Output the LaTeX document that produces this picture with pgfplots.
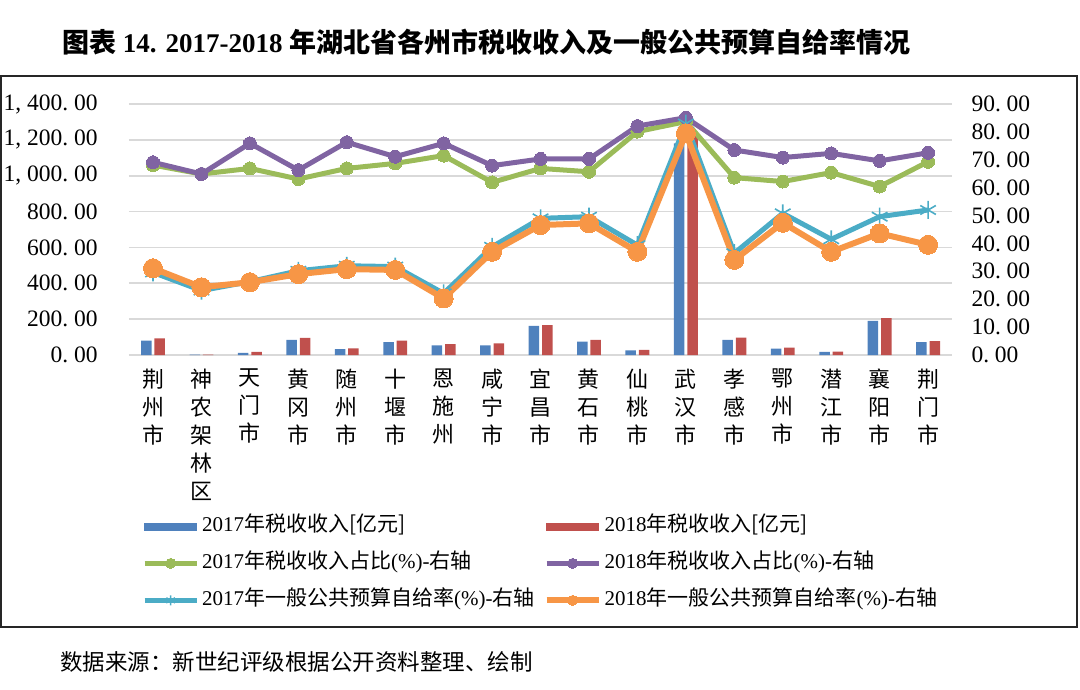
\documentclass[border=0pt]{standalone}
\usepackage{fontspec}
\setmainfont{Liberation Serif}
\newfontfamily\cjk{Noto Sans CJK SC}
\usepackage{pgfplots}
\pgfplotsset{compat=1.18}
\definecolor{cblue}{HTML}{4F81BD}
\definecolor{cred}{HTML}{C0504D}
\definecolor{cgreen}{HTML}{9BBB59}
\definecolor{cpurple}{HTML}{8064A2}
\definecolor{cteal}{HTML}{4BACC6}
\definecolor{corange}{HTML}{F79646}
\newcommand\cm{,\hspace{0.25em}}
\newcommand\pd{.\hspace{0.25em}}
\begin{document}
\begin{tikzpicture}[x=1pt,y=1pt]
\path[use as bounding box] (0,0) rectangle (1080,689);
\draw[line width=2pt, color=black!85] (1,62) rectangle (1077,613);
\node[anchor=west, inner sep=0pt, font=\bfseries\fontsize{27}{30}\selectfont] at (62,647) {{\cjk\bfseries 图表} 14. 2017-2018 {\cjk\bfseries 年湖北省各州市税收收入及一般公共预算自给率情况}};
\node[anchor=west, inner sep=0pt, font=\cjk\fontsize{22.5}{26}\selectfont] at (60,27) {数据来源：新世纪评级根据公开资料整理、绘制};
\begin{axis}[
  at={(128.8pt,334pt)}, anchor=south west,
  width=823.5pt, height=251pt, scale only axis,
  xmin=-0.5, xmax=16.5, ymin=0, ymax=1400,
  axis line style={draw=none}, major tick length=0pt,
  ymajorgrids, grid style={color=black!15, line width=1.6pt},
  xtick={0,...,16},
  xticklabels={{荆\\州\\市},{神\\农\\架\\林\\区},{天\\门\\市},{黄\\冈\\市},{随\\州\\市},{十\\堰\\市},{恩\\施\\州},{咸\\宁\\市},{宜\\昌\\市},{黄\\石\\市},{仙\\桃\\市},{武\\汉\\市},{孝\\感\\市},{鄂\\州\\市},{潜\\江\\市},{襄\\阳\\市},{荆\\门\\市}},
  xticklabel style={font=\cjk\fontsize{22}{28}\selectfont, align=center, anchor=north, inner sep=0pt, yshift=-14pt},
  ytick={0,200,...,1400},
  yticklabels={0\pd00,200\pd00,400\pd00,600\pd00,800\pd00,1\cm000\pd00,1\cm200\pd00,1\cm400\pd00},
  yticklabel style={font=\fontsize{23.5}{26}\selectfont, anchor=east, inner sep=0pt, xshift=-31pt},
]
\addplot[ybar, bar width=10.5pt, bar shift=-6.7pt, fill=cblue, draw=none] coordinates {
(0,80) (1,2) (2,12) (3,84) (4,33) (5,72) (6,54) (7,54) (8,163) (9,74) (10,26) (11,1181) (12,84) (13,35) (14,17) (15,191) (16,72)};
\addplot[ybar, bar width=10.5pt, bar shift=6.7pt, fill=cred, draw=none] coordinates {
(0,93) (1,2) (2,18) (3,95) (4,37) (5,80) (6,60) (7,65) (8,167) (9,84) (10,28) (11,1230) (12,97) (13,41) (14,19) (15,205) (16,78)};
\end{axis}
\begin{axis}[
  at={(128.8pt,334pt)}, anchor=south west,
  width=823.5pt, height=251pt, scale only axis,
  xmin=-0.5, xmax=16.5, ymin=0, ymax=90,
  axis x line=none, axis y line*=right,
  axis line style={draw=none}, major tick length=0pt,
  ytick={0,10,...,90},
  yticklabels={0\pd00,10\pd00,20\pd00,30\pd00,40\pd00,50\pd00,60\pd00,70\pd00,80\pd00,90\pd00},
  yticklabel style={font=\fontsize{23.5}{26}\selectfont, anchor=west, inner sep=0pt, xshift=19pt},
  legend columns=2,
  legend style={at={(0.016,-0.642)}, anchor=north west, draw=none, fill=none, inner sep=0pt,
    font=\fontsize{21}{24}\selectfont,
    nodes={inner sep=0pt, text height=15pt, text depth=5pt, anchor=west},
    row sep=17pt,
    /tikz/every odd column/.append style={column sep=3pt},
    /tikz/every even column/.append style={column sep=9pt}},
  legend cell align=left,
  legend image code/.code={\draw[#1, mark repeat=2, mark phase=2, mark size=5pt] plot coordinates {(0pt,0pt) (26pt,0pt) (52pt,0pt)};},
]
\addlegendimage{legend image code/.code={\fill[cblue] (0pt,-3.5pt) rectangle (52pt,3.5pt);}}
\addlegendentry{2017{\cjk 年税收收入[亿元]}}
\addlegendimage{legend image code/.code={\fill[cred] (0pt,-3.5pt) rectangle (52pt,3.5pt);}}
\addlegendentry{2018{\cjk 年税收收入[亿元]}}
\addplot[color=cgreen, line width=5pt, mark=*, mark size=6.5pt, mark options={fill=cgreen, draw=cgreen, line width=0pt}] coordinates {
(0,68.1) (1,64.9) (2,66.9) (3,63.1) (4,66.9) (5,68.7) (6,71.5) (7,61.9) (8,66.9) (9,65.7) (10,80.1) (11,83.7) (12,63.6) (13,62.2) (14,65.4) (15,60.4) (16,69.3)};
\addlegendentry{2017{\cjk 年税收收入占比}(\%)-{\cjk 右轴}}
\addplot[color=cpurple, line width=5pt, mark=*, mark size=6.5pt, mark options={fill=cpurple, draw=cpurple, line width=0pt}] coordinates {
(0,69.1) (1,64.9) (2,75.9) (3,66.3) (4,76.3) (5,71.1) (6,75.9) (7,67.9) (8,70.3) (9,70.3) (10,82.1) (11,85.1) (12,73.5) (13,70.8) (14,72.3) (15,69.6) (16,72.5)};
\addlegendentry{2018{\cjk 年税收收入占比}(\%)-{\cjk 右轴}}
\addplot[color=cteal, line width=5pt, mark=asterisk, mark size=9pt, mark options={draw=cteal, line width=1.6pt}] coordinates {
(0,29.6) (1,23.1) (2,26.3) (3,30.2) (4,32.0) (5,31.7) (6,22.1) (7,38.8) (8,49.0) (9,49.6) (10,39.4) (11,83.0) (12,36.5) (13,50.8) (14,41.5) (15,49.6) (16,52.0)};
\addlegendentry{2017{\cjk 年一般公共预算自给率}(\%)-{\cjk 右轴}}
\addplot[color=corange, line width=6pt, mark=*, mark size=9.5pt, mark options={fill=corange, draw=corange, line width=0pt}] coordinates {
(0,31.1) (1,24.3) (2,26.1) (3,29.0) (4,30.8) (5,30.5) (6,20.3) (7,37.0) (8,46.6) (9,47.2) (10,37.0) (11,79.5) (12,34.1) (13,47.4) (14,37.0) (15,43.6) (16,39.5)};
\addlegendentry{2018{\cjk 年一般公共预算自给率}(\%)-{\cjk 右轴}}
\end{axis}
\end{tikzpicture}
\end{document}
